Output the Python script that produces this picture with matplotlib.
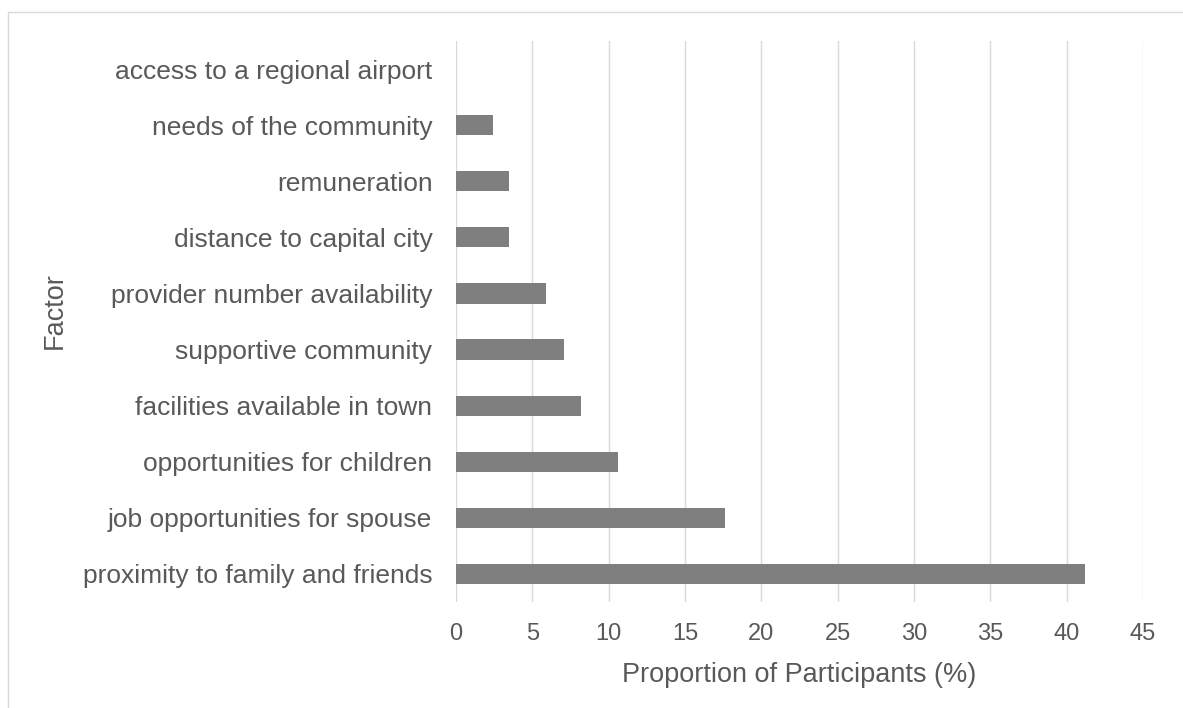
import matplotlib
matplotlib.use("Agg")
import matplotlib.pyplot as plt
from matplotlib.patches import Rectangle

categories = [
    "proximity to family and friends",
    "job opportunities for spouse",
    "opportunities for children",
    "facilities available in town",
    "supportive community",
    "provider number availability",
    "distance to capital city",
    "remuneration",
    "needs of the community",
    "access to a regional airport",
]
values = [41.2, 17.6, 10.6, 8.2, 7.1, 5.9, 3.5, 3.5, 2.4, 0.0]
xticks = [0, 5, 10, 15, 20, 25, 30, 35, 40, 45]

plt.rcParams['font.family'] = ['Liberation Sans', 'DejaVu Sans']
text_color = "#595959"
grid_color = "#d9d9d9"
bar_color = "#7f7f7f"

W, H = 1183, 708
fig = plt.figure(figsize=(W / 100, H / 100), dpi=100)
left, right, top, bottom = 456, 1143, 41, 602
ax = fig.add_axes([left / W, 1 - bottom / H, (right - left) / W, (bottom - top) / H])

ypos = list(range(len(categories)))
ax.barh(ypos, values, height=0.36, color=bar_color, zorder=3)

ax.set_xlim(0, 45)
ax.set_ylim(-0.5, len(categories) - 0.5)
ax.set_xticks(xticks)
ax.set_xticklabels([str(t) for t in xticks])
ax.set_yticks(ypos)
ax.set_yticklabels(categories)

for s in ax.spines.values():
    s.set_visible(False)
ax.grid(axis='x', color=grid_color, linewidth=1.0, zorder=0)
ax.tick_params(axis='x', length=0, pad=15, labelsize=17, labelcolor=text_color)
ax.tick_params(axis='y', length=0, pad=17, labelsize=19, labelcolor=text_color)

ax.set_xlabel("Proportion of Participants (%)", fontsize=19.5, color=text_color, va='center')
ax.xaxis.set_label_coords(0.5, -0.13)
ax.set_ylabel("Factor", fontsize=19.5, color=text_color, va='center')
ax.yaxis.set_label_coords(-0.584, 0.52)

fig.add_artist(Rectangle((8 / W, -0.1), 1.2, (H - 11.5) / H + 0.1, transform=fig.transFigure,
                         fill=False, edgecolor=grid_color, linewidth=1.0, clip_on=False))

fig.savefig("out.png", dpi=100)
